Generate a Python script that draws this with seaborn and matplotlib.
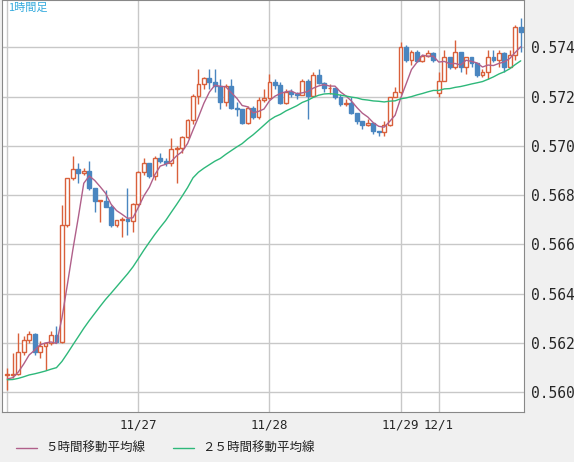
import numpy as np
import pandas as pd
import matplotlib
matplotlib.use('Agg')
import matplotlib.pyplot as plt
import seaborn as sns
from matplotlib.patches import Rectangle
from matplotlib.lines import Line2D

# hourly closes / highs / lows
closes = [0.56071, 0.56075, 0.56163, 0.56213, 0.56236, 0.56165, 0.56188, 0.56199, 0.56233, 0.56206,
          0.56679, 0.56869, 0.56905, 0.56889, 0.56899, 0.56828, 0.56778, 0.56778, 0.56753, 0.56679,
          0.56699, 0.56703, 0.56697, 0.56763, 0.56892, 0.56929, 0.56879, 0.56950, 0.56940, 0.56929,
          0.56986, 0.56993, 0.57035, 0.57105, 0.57202, 0.57251, 0.57274, 0.57260, 0.57244, 0.57179,
          0.57243, 0.57155, 0.57148, 0.57094, 0.57153, 0.57119, 0.57186, 0.57196, 0.57260, 0.57247,
          0.57175, 0.57220, 0.57211, 0.57206, 0.57264, 0.57202, 0.57288, 0.57256, 0.57234, 0.57234,
          0.57200, 0.57170, 0.57175, 0.57132, 0.57102, 0.57085, 0.57092, 0.57060, 0.57058, 0.57085,
          0.57200, 0.57218, 0.57400, 0.57349, 0.57382, 0.57346, 0.57365, 0.57378, 0.57349, 0.57263,
          0.57359, 0.57319, 0.57382, 0.57319, 0.57359, 0.57335, 0.57288, 0.57299, 0.57359, 0.57349,
          0.57378, 0.57319, 0.57369, 0.57481, 0.57463]
highs = [0.5610, 0.5616, 0.5624, 0.5623, 0.5625, 0.5624, 0.5621, 0.5620, 0.5625, 0.5627,
         0.5676, 0.5687, 0.5696, 0.5693, 0.5691, 0.5694, 0.5683, 0.5678, 0.5682, 0.5676,
         0.5670, 0.5671, 0.5683, 0.5677, 0.5690, 0.5695, 0.5693, 0.5696, 0.5697, 0.5695,
         0.5703, 0.5700, 0.5704, 0.5711, 0.5721, 0.5731, 0.5728, 0.5731, 0.5731, 0.5727,
         0.5725, 0.5727, 0.5718, 0.5715, 0.5716, 0.5716, 0.5720, 0.5723, 0.5729, 0.5727,
         0.5726, 0.5723, 0.5723, 0.5722, 0.5727, 0.5727, 0.5730, 0.5731, 0.5726, 0.5725,
         0.5723, 0.5721, 0.5719, 0.5720, 0.5713, 0.5710, 0.5711, 0.5709, 0.5706, 0.5710,
         0.5720, 0.5724, 0.5742, 0.5741, 0.5739, 0.5739, 0.5737, 0.5739, 0.5738, 0.5730,
         0.5739, 0.5736, 0.5743, 0.5738, 0.5736, 0.5736, 0.5731, 0.5731, 0.5739, 0.5739,
         0.5739, 0.5738, 0.5739, 0.5749, 0.5752]
lows = [0.5601, 0.5606, 0.5607, 0.5615, 0.5620, 0.5615, 0.5614, 0.5609, 0.5619, 0.5620,
        0.5620, 0.5667, 0.5686, 0.5685, 0.5688, 0.5682, 0.5673, 0.5669, 0.5675, 0.5667,
        0.5667, 0.5663, 0.5664, 0.5665, 0.5675, 0.5688, 0.5687, 0.5686, 0.5693, 0.5692,
        0.5692, 0.5685, 0.5697, 0.5703, 0.5709, 0.5717, 0.5723, 0.5723, 0.5722, 0.5715,
        0.5716, 0.5715, 0.5712, 0.5709, 0.5709, 0.5711, 0.5711, 0.5718, 0.5719, 0.5723,
        0.5717, 0.5717, 0.5720, 0.5719, 0.5721, 0.5711, 0.5724, 0.5725, 0.5722, 0.5721,
        0.5719, 0.5716, 0.5716, 0.5713, 0.5709, 0.5707, 0.5708, 0.5705, 0.5704, 0.5704,
        0.5708, 0.5720, 0.5721, 0.5734, 0.5733, 0.5734, 0.5734, 0.5736, 0.5734, 0.5720,
        0.5728, 0.5731, 0.5731, 0.5730, 0.5729, 0.5732, 0.5728, 0.5728, 0.5727, 0.5734,
        0.5732, 0.5730, 0.5732, 0.5735, 0.5738]
# opens that are not the previous close (first bar, weekend gap)
open_overrides = {0: 0.56071, 79: 0.57213}
# estimated closes before the visible window (for the 25-hour average)
prior_closes = [0.56050] * 24

tick_pos = [24, 48, 72, 79]
tick_labels = ['11/27', '11/28', '11/29', '12/1']
y_ticks = [0.560, 0.562, 0.564, 0.566, 0.568, 0.570, 0.572, 0.574]

opens = [open_overrides.get(i, closes[i - 1] if i else closes[0]) for i in range(len(closes))]
full = pd.Series(prior_closes + closes)
df = pd.DataFrame({'x': np.arange(len(closes)), 'open': opens, 'close': closes,
                   'high': highs, 'low': lows})
df['ma5'] = full.rolling(5).mean().iloc[len(prior_closes):].values
df['ma25'] = full.rolling(25).mean().iloc[len(prior_closes):].values

UP, DOWN = '#d9603b', '#4a86c0'
MA5, MA25 = '#b0608a', '#2eb87a'
sns.set_style('white')
plt.rcParams['font.family'] = ['Noto Sans CJK JP', 'DejaVu Sans']

fig = plt.figure(figsize=(5.74, 4.62), dpi=100, facecolor='#f0f0f0')
ax = fig.add_axes([2 / 574, 1 - 412 / 462, 522 / 574, 412 / 462])
ax.set_facecolor('white')

ax.set_xlim(-0.97, 94.6)
ax.set_ylim(0.55920, 0.57592)
for t in [0] + tick_pos:
    ax.axvline(t, color='#c8c8c8', lw=1, zorder=0)
for t in y_ticks:
    ax.axhline(t, color='#c8c8c8', lw=1, zorder=0)

w = 0.7
for r in df.itertuples():
    up = r.close >= r.open
    col = UP if up else DOWN
    ax.vlines(r.x, r.low, r.high, color=col, lw=1, zorder=2)
    lo, hi = min(r.open, r.close), max(r.open, r.close)
    hgt = max(hi - lo, 0.000012)
    ax.add_patch(Rectangle((r.x - w / 2, lo), w, hgt, facecolor='white' if up else col,
                           edgecolor=col, lw=1, zorder=3))

sns.lineplot(data=df, x='x', y='ma5', ax=ax, color=MA5, lw=1, zorder=4)
sns.lineplot(data=df, x='x', y='ma25', ax=ax, color=MA25, lw=1, zorder=4)

ax.set_xlabel('')
ax.set_ylabel('')
ax.set_xticks(tick_pos)
ax.set_xticklabels(tick_labels, fontsize=9, family='DejaVu Sans Mono')
ax.yaxis.tick_right()
ax.set_yticks(y_ticks)
ax.set_yticklabels([f'{v:.3f}' for v in y_ticks], fontsize=10.5, family='DejaVu Sans Mono')
ax.tick_params(length=0, pad=5)
for s in ax.spines.values():
    s.set_color('#888888')

ax.text(0.012, 0.993, '1時間足', transform=ax.transAxes, ha='left', va='top',
        fontsize=8, color='#33aadd')

ly = 1 - 448 / 462
fig.add_artist(Line2D([16 / 574, 37 / 574], [ly, ly], color=MA5, lw=1))
fig.text(45 / 574, ly, '５時間移動平均線', fontsize=9, va='center', color='#222222')
fig.add_artist(Line2D([173 / 574, 194 / 574], [ly, ly], color=MA25, lw=1))
fig.text(202 / 574, ly, '２５時間移動平均線', fontsize=9, va='center', color='#222222')

fig.savefig('out.png', dpi=100, facecolor=fig.get_facecolor())
